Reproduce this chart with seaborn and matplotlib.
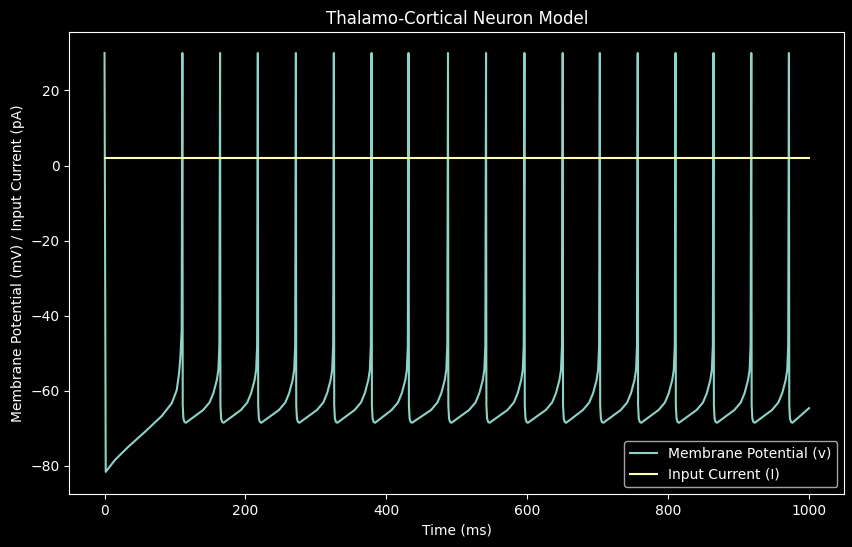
import numpy as np
import pandas as pd
import matplotlib
matplotlib.use("Agg")
import matplotlib.pyplot as plt
import seaborn as sns

# spike times (ms)
spike_times = [0, 110.5, 164, 217.6, 271.6, 325.5, 379, 431.5, 487.5, 541.5,
               596, 650.3, 703, 756.8, 810.4, 864.4, 918, 971.4]
spike_peak = 30

# first recovery after the initial spike
first_t = [1.7, 14.9, 33.8, 57.5, 81.2, 95.4, 102.5, 105.8, 107.7, 109.5]
first_v = [-81.7, -78.5, -75.0, -71.0, -66.8, -63.4, -59.9, -55.4, -51.0, -44.0]

# shape after each spike (offset from spike) and before the next one (offset to next spike)
decay_dt = [0.5, 1.5, 3.0, 5.0]
decay_v = [-64.0, -67.5, -68.4, -68.6]
rise_dt = [-24, -15, -9.5, -4.6, -2.4, -1.0]
rise_v = [-65.2, -63.2, -60.7, -57.2, -54.5, -48.0]

end_t = 1000
end_v = -64.7

current_t = [0, 1000]
current_i = [2, 2]

# assemble the membrane trace from the read pieces
t = [spike_times[0]] + first_t
v = [spike_peak] + first_v
for k, s in enumerate(spike_times[1:], start=1):
    t.append(s)
    v.append(spike_peak)
    t += [s + d for d in decay_dt]
    v += decay_v
    if k + 1 < len(spike_times):
        nxt = spike_times[k + 1]
        t += [nxt + d for d in rise_dt]
        v += rise_v
t.append(end_t)
v.append(end_v)

trace = pd.DataFrame({"t": t, "v": v})
inp = pd.DataFrame({"t": current_t, "i": current_i})

plt.style.use("dark_background")
fig = plt.figure(figsize=(8.53, 5.47), dpi=100)
ax = fig.add_axes([69.3 / 853, 53 / 547, 775 / 853, 462 / 547])

sns.lineplot(data=trace, x="t", y="v", ax=ax, color="#8dd3c7", lw=1.5,
             estimator=None, sort=False, label="Membrane Potential (v)")
sns.lineplot(data=inp, x="t", y="i", ax=ax, color="#feffb3", lw=1.5,
             estimator=None, sort=False, label="Input Current (I)")

ax.set_xlim(-50, 1050)
ax.set_ylim(-87.6, 35.6)
ax.set_title("Thalamo-Cortical Neuron Model")
ax.set_xlabel("Time (ms)")
ax.set_ylabel("Membrane Potential (mV) / Input Current (pA)")
ax.legend(loc="lower right")

fig.savefig("out.png", dpi=100)
